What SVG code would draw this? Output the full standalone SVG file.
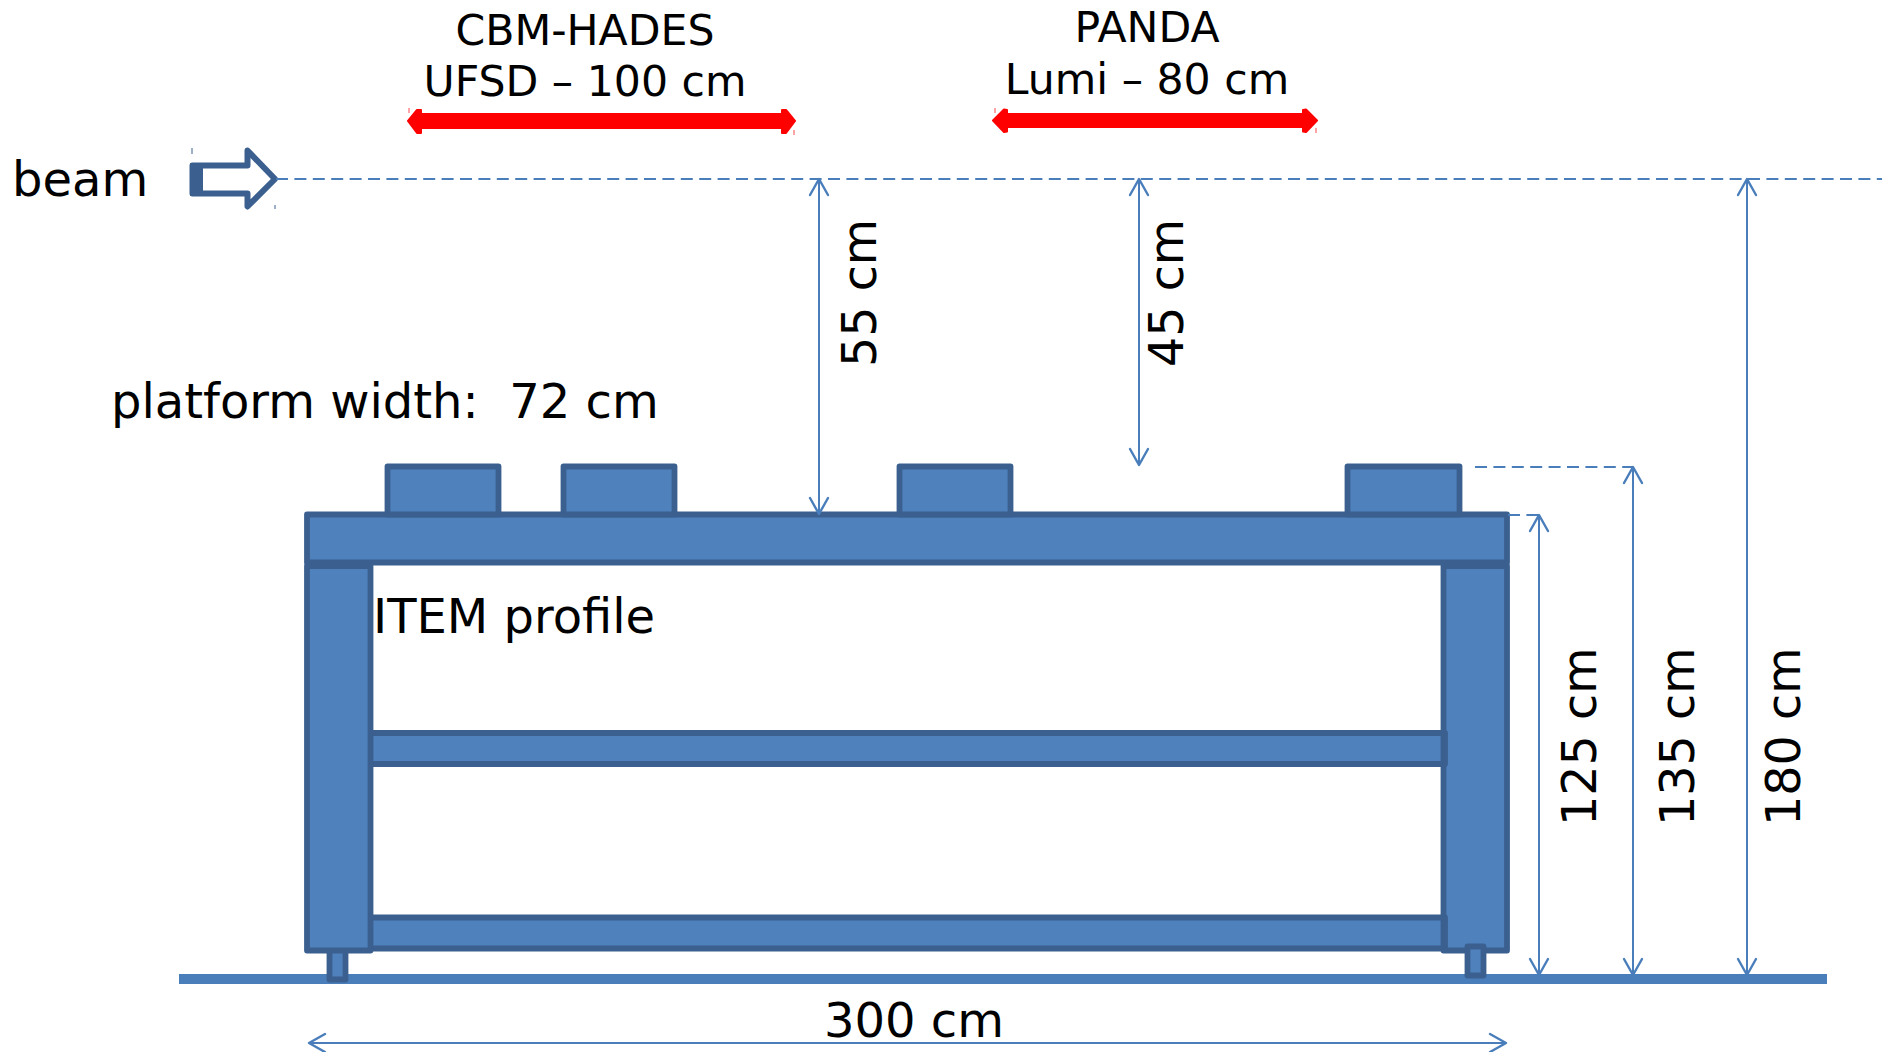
<svg xmlns="http://www.w3.org/2000/svg" width="1889" height="1052" viewBox="0 0 1889 1052">
<style>
text{font-family:"DejaVu Sans",sans-serif;fill:#000}
.t42{font-size:42.600px}
.t48{font-size:48px}
.rot{font-size:47.600px}
.part{fill:#4F81BD;stroke:#3B6090;stroke-width:5.800;stroke-linejoin:round}
.dim{fill:none;stroke:#4A7EBB;stroke-width:2;marker-start:url(#open);marker-end:url(#open)}
.dash{fill:none;stroke:#4A7EBB;stroke-width:2;stroke-dasharray:12 6.400}
.red{fill:#F00;stroke:#F00;stroke-width:2;stroke-linejoin:round}
.tickr{stroke:#F00;stroke-width:1;opacity:.7}
.tickb{stroke:#3B6090;stroke-width:1}
</style>
<defs>
<marker id="open" viewBox="-18 -11 20 22" markerUnits="userSpaceOnUse" markerWidth="20" markerHeight="22" refX="0" refY="0" orient="auto-start-reverse">
<path d="M-16 -9 L0 0 L-16 9" fill="none" stroke="#4A7EBB" stroke-width="2.400" stroke-linejoin="round" stroke-linecap="round"/>
</marker>
</defs>
<rect width="1889" height="1052" fill="#fff"/>
<g id="ground"><rect x="179" y="974" width="1648" height="10" fill="#4A7EBB"/></g>
<g id="foot-left"><rect class="part" x="329.500" y="950" width="16" height="29.500"/></g>
<g id="bar-mid"><rect class="part" x="370" y="733" width="1075" height="31"/></g>
<g id="bar-low"><rect class="part" x="370" y="917.500" width="1075" height="31"/></g>
<g id="column-left"><rect class="part" x="307" y="566" width="63.500" height="384.500"/></g>
<g id="column-right"><rect class="part" x="1443.500" y="566" width="63.500" height="384.500"/></g>
<g id="bar-mid-cap"><path class="part" d="M1443.500 733H1445V764H1443.500" fill="none"/></g>
<g id="bar-low-cap"><path class="part" d="M1443.500 917.500H1445V948.500H1443.500" fill="none"/></g>
<g id="foot-right"><rect class="part" x="1467.500" y="946.500" width="16" height="29"/></g>
<g id="top-bar"><rect class="part" x="307" y="514.500" width="1200" height="48"/></g>
<g id="box-1"><rect class="part" x="387.500" y="466.500" width="111" height="48"/></g>
<g id="box-2"><rect class="part" x="563.500" y="466.500" width="111" height="48"/></g>
<g id="box-3"><rect class="part" x="899.500" y="466.500" width="111" height="48"/></g>
<g id="box-4"><rect class="part" x="1347.500" y="466.500" width="112" height="48"/></g>
<g id="beam-arrow">
<path d="M192.500 165.500H247.500V150.500L275 179L247.500 206.500V193.500H192.500Z" fill="#fff" stroke="#3B6090" stroke-width="6" stroke-linejoin="round"/>
<rect x="190" y="163" width="13" height="33" fill="#3B6090"/>
<line class="tickb" x1="192" y1="148" x2="192" y2="154"/>
<line class="tickb" x1="275" y1="205" x2="275" y2="209"/>
</g>
<g id="range-cbm">
<path class="red" d="M408 121L417 110L421 110V114H782V110H786L795 121L786 133H782V128H421V133H417Z"/>
<line class="tickr" x1="409" y1="108" x2="409" y2="113"/>
<line class="tickr" x1="794" y1="130" x2="794" y2="135"/>
</g>
<g id="range-panda">
<path class="red" d="M993 120.500L1004 109.500L1007 110V114H1303V110L1306 109.500L1317 120.500L1306 132L1303 131.500V127H1007V131.500L1004 132Z"/>
<line class="tickr" x1="995" y1="108" x2="995" y2="113"/>
<line class="tickr" x1="1316" y1="128" x2="1316" y2="133"/>
</g>
<g id="connectors">
<line class="dash" x1="276" y1="179" x2="1882" y2="179"/>
<line class="dash" x1="1475" y1="467" x2="1633" y2="467"/>
<line class="dash" x1="1508" y1="515" x2="1539" y2="515"/>
<line class="dim" x1="819" y1="179" x2="819" y2="514"/>
<line class="dim" x1="1139" y1="179" x2="1139" y2="465"/>
<line class="dim" x1="1539" y1="515" x2="1539" y2="975"/>
<line class="dim" x1="1633" y1="467" x2="1633" y2="975"/>
<line class="dim" x1="1747" y1="179" x2="1747" y2="975"/>
<line class="dim" x1="309" y1="1043" x2="1506" y2="1043"/>
</g>
<g id="labels">
<text class="t42" x="585" y="45" text-anchor="middle">CBM-HADES</text>
<text class="t42" x="585" y="96" text-anchor="middle">UFSD – 100 cm</text>
<text class="t42" x="1147" y="42" text-anchor="middle">PANDA</text>
<text class="t42" x="1147" y="94" text-anchor="middle">Lumi – 80 cm</text>
<text class="t48" x="12" y="196">beam</text>
<text class="t48" x="111" y="418" xml:space="preserve">platform width:  72 cm</text>
<text class="t48" x="373" y="633">ITEM profile</text>
<text class="t48" x="914" y="1037" text-anchor="middle">300 cm</text>
<text class="rot" transform="translate(876 367) rotate(-90)">55 cm</text>
<text class="rot" transform="translate(1183 367) rotate(-90)">45 cm</text>
<text class="rot" transform="translate(1596 826) rotate(-90)">125 cm</text>
<text class="rot" transform="translate(1694 826) rotate(-90)">135 cm</text>
<text class="rot" transform="translate(1800 826) rotate(-90)">180 cm</text>
</g>
</svg>
